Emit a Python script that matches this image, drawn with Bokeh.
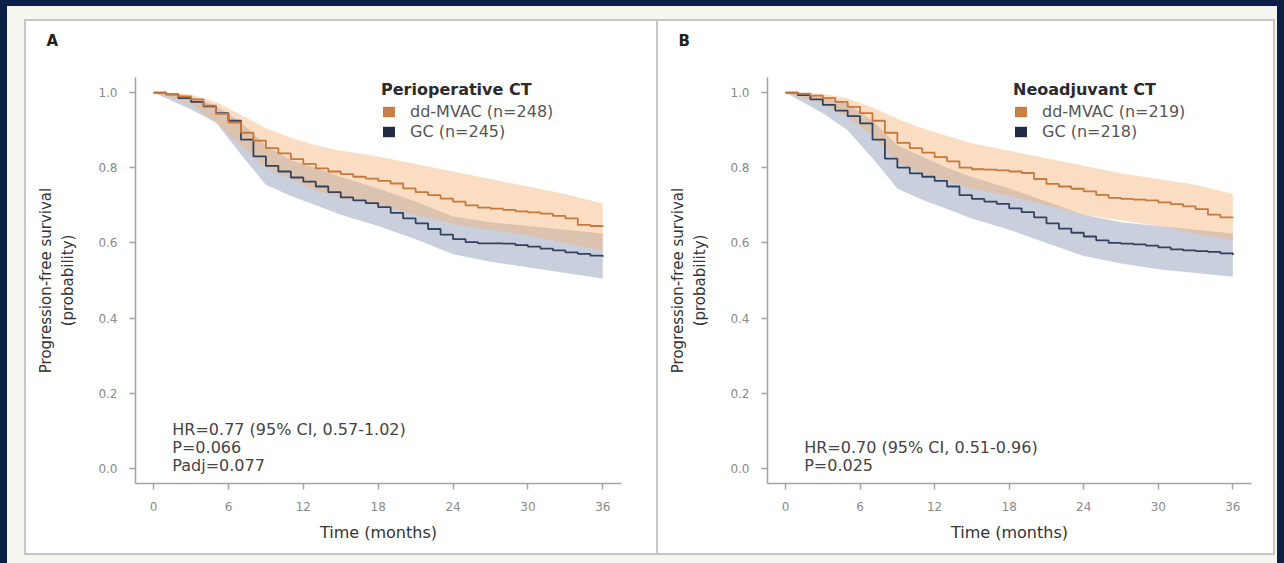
from bokeh.plotting import figure
from bokeh.layouts import row, column
from bokeh.models import (Range1d, LinearAxis, FixedTicker, Legend, LegendItem,
                          Label, Spacer, Title)
from bokeh.embed import file_html
from bokeh.resources import INLINE

# ---------------- data ----------------
months = list(range(37))

a_mvac = [1.0, 0.995, 0.99, 0.982, 0.965, 0.943, 0.92, 0.893, 0.872, 0.852, 0.838,
          0.823, 0.81, 0.798, 0.79, 0.783, 0.776, 0.771, 0.765, 0.758, 0.745, 0.735,
          0.727, 0.718, 0.71, 0.70, 0.694, 0.691, 0.688, 0.684, 0.681, 0.678, 0.672,
          0.665, 0.648, 0.645, 0.643]
a_gc = [1.0, 0.995, 0.985, 0.975, 0.963, 0.945, 0.925, 0.875, 0.83, 0.805, 0.79,
        0.774, 0.763, 0.75, 0.735, 0.721, 0.713, 0.706, 0.695, 0.68, 0.665, 0.652,
        0.637, 0.622, 0.61, 0.602, 0.599, 0.599, 0.598, 0.594, 0.59, 0.585, 0.58,
        0.575, 0.571, 0.566, 0.563]
b_mvac = [1.0, 0.997, 0.992, 0.985, 0.975, 0.962, 0.945, 0.925, 0.893, 0.866, 0.852,
          0.84, 0.828, 0.817, 0.80, 0.796, 0.795, 0.793, 0.79, 0.786, 0.77, 0.757,
          0.75, 0.744, 0.737, 0.728, 0.72, 0.717, 0.715, 0.713, 0.708, 0.703, 0.697,
          0.69, 0.675, 0.668, 0.667]
b_gc = [1.0, 0.993, 0.982, 0.967, 0.952, 0.937, 0.918, 0.875, 0.824, 0.80, 0.785,
        0.776, 0.765, 0.75, 0.727, 0.717, 0.71, 0.704, 0.692, 0.682, 0.668, 0.652,
        0.638, 0.627, 0.617, 0.607, 0.60, 0.598, 0.596, 0.593, 0.588, 0.583, 0.58,
        0.578, 0.576, 0.572, 0.568]

band_months = [0, 3, 5, 7, 9, 11, 13, 15, 18, 21, 24, 27, 30, 33, 36]
a_mvac_hi = [1.0, 0.995, 0.975, 0.94, 0.905, 0.88, 0.86, 0.845, 0.83, 0.81, 0.79, 0.77, 0.75, 0.73, 0.705]
a_mvac_lo = [1.0, 0.97, 0.92, 0.86, 0.80, 0.77, 0.74, 0.72, 0.70, 0.675, 0.65, 0.635, 0.62, 0.60, 0.58]
a_gc_hi = [1.0, 0.99, 0.965, 0.92, 0.86, 0.82, 0.80, 0.775, 0.745, 0.71, 0.67, 0.655, 0.645, 0.635, 0.625]
a_gc_lo = [1.0, 0.955, 0.92, 0.835, 0.755, 0.725, 0.70, 0.675, 0.645, 0.61, 0.57, 0.55, 0.535, 0.52, 0.505]
b_mvac_hi = [1.0, 0.997, 0.985, 0.96, 0.93, 0.905, 0.885, 0.865, 0.845, 0.825, 0.805, 0.785, 0.77, 0.755, 0.73]
b_mvac_lo = [1.0, 0.97, 0.935, 0.885, 0.815, 0.785, 0.765, 0.745, 0.725, 0.70, 0.675, 0.66, 0.645, 0.625, 0.607]
b_gc_hi = [1.0, 0.99, 0.97, 0.925, 0.86, 0.83, 0.80, 0.775, 0.745, 0.71, 0.675, 0.655, 0.645, 0.635, 0.625]
b_gc_lo = [1.0, 0.945, 0.90, 0.825, 0.745, 0.715, 0.69, 0.665, 0.635, 0.60, 0.565, 0.545, 0.53, 0.52, 0.51]

x_ticks = [0, 6, 12, 18, 24, 30, 36]
x_tick_labels = ["0", "6", "12", "18", "24", "30", "36"]
y_ticks = [0.0, 0.2, 0.4, 0.6, 0.8, 1.0]
y_tick_labels = ["0.0", "0.2", "0.4", "0.6", "0.8", "1.0"]

panel_letters = ["A", "B"]
legend_titles = ["Perioperative CT", "Neoadjuvant CT"]
mvac_labels = ["dd-MVAC (n=248)", "dd-MVAC (n=219)"]
gc_labels = ["GC (n=245)", "GC (n=218)"]
stats_a = ["HR=0.77 (95% CI, 0.57-1.02)", "P=0.066", "Padj=0.077"]
stats_b = ["HR=0.70 (95% CI, 0.51-0.96)", "P=0.025"]
x_title = "Time (months)"
y_title_outer = "Progression-free survival"
y_title_inner = "(probability)"

# ---------------- style ----------------
FONT = "DejaVu Sans"
NAVY_PAGE = "#0c1f47"
CREAM = "#f6f6f0"
GREY = "#c6c6c4"
AXIS = "#a4a4a4"
MVAC_LINE = "#c7783d"
MVAC_FILL = "#f4b47a"
GC_LINE = "#33435f"
GC_FILL = "#7080a3"
MVAC_SWATCH = "#c98048"
GC_SWATCH = "#1f2b42"

X_START, X_END = -1.45, 37.5
Y_START, Y_END = -0.04, 1.04


def make_panel(fig_width, border_right, letter, legend_title, mvac_label, gc_label,
               mvac, gc, mvac_lo, mvac_hi, gc_lo, gc_hi, stats):
    p = figure(width=fig_width, height=532,
               x_range=Range1d(X_START, X_END), y_range=Range1d(Y_START, Y_END),
               output_backend="svg", toolbar_location=None,
               min_border_left=109, min_border_right=border_right,
               min_border_top=56, min_border_bottom=70,
               background_fill_color="white", border_fill_color="white")
    p.outline_line_color = None
    p.xgrid.visible = False
    p.ygrid.visible = False

    # panel letter: the default title (outer); an empty title next to the frame spaces it up
    p.title.text = letter
    p.title.align = "left"
    p.title.offset = -89
    p.title.standoff = 0
    p.title.text_font = FONT
    p.title.text_font_size = "15px"
    p.title.text_font_style = "bold"
    p.title.text_color = "#222222"
    p.add_layout(Title(text=" ", text_font_size="1px", standoff=25), "above")

    # confidence bands
    p.varea(x=band_months, y1=gc_lo, y2=gc_hi, fill_color=GC_FILL, fill_alpha=0.38)
    p.varea(x=band_months, y1=mvac_lo, y2=mvac_hi, fill_color=MVAC_FILL, fill_alpha=0.45)
    # KM curves
    p.step(months, gc, mode="after", line_color=GC_LINE, line_width=1.8)
    p.step(months, mvac, mode="after", line_color=MVAC_LINE, line_width=1.8)

    # legend swatches: zero-area quads (nothing drawn in the frame)
    r_m = p.quad(left=months, right=months, top=mvac, bottom=mvac,
                 fill_color=MVAC_SWATCH, line_color=None)
    r_g = p.quad(left=months, right=months, top=gc, bottom=gc,
                 fill_color=GC_SWATCH, line_color=None)
    legend = Legend(items=[LegendItem(label=mvac_label, renderers=[r_m]),
                           LegendItem(label=gc_label, renderers=[r_g])],
                    location=(246, 342))
    legend.title = legend_title
    legend.title_text_font = FONT
    legend.title_text_font_style = "bold"
    legend.title_text_font_size = "16px"
    legend.title_text_color = "#2b2b2b"
    legend.title_standoff = 2
    legend.label_text_font = FONT
    legend.label_text_font_size = "16px"
    legend.label_text_color = "#555555"
    legend.label_height = 20
    legend.glyph_height = 13
    legend.glyph_width = 15
    legend.label_standoff = 14
    legend.padding = 3
    legend.spacing = 0
    legend.border_line_color = None
    legend.background_fill_alpha = 0
    p.add_layout(legend)

    # axes
    xa = p.xaxis[0]
    xa.ticker = FixedTicker(ticks=x_ticks)
    xa.major_label_overrides = dict(zip(x_ticks, x_tick_labels))
    ya = p.yaxis[0]
    ya.ticker = FixedTicker(ticks=y_ticks)
    ya.major_label_overrides = dict(zip(y_ticks, y_tick_labels))
    for ax in (xa, ya):
        ax.axis_line_color = AXIS
        ax.axis_line_width = 1.5
        ax.major_tick_line_color = AXIS
        ax.major_tick_line_width = 1.5
        ax.major_tick_out = 6
        ax.major_tick_in = 0
        ax.minor_tick_line_color = None
        ax.major_label_text_font = FONT
        ax.major_label_text_font_size = "12px"
        ax.major_label_text_color = "#8a8a8a"
        ax.axis_label_text_font = FONT
        ax.axis_label_text_font_style = "normal"
        ax.axis_label_text_color = "#333333"
    xa.major_label_standoff = 12
    xa.axis_label = x_title
    xa.axis_label_text_font_size = "16px"
    xa.axis_label_standoff = 9
    ya.major_label_standoff = 12
    ya.axis_label = y_title_inner
    ya.axis_label_text_font_size = "15px"
    ya.axis_label_standoff = 18

    outer = LinearAxis(ticker=FixedTicker(ticks=[]), axis_label=y_title_outer,
                       axis_line_color=None, major_tick_line_color=None,
                       minor_tick_line_color=None, major_tick_out=0, major_tick_in=0,
                       major_label_standoff=0, axis_label_standoff=2,
                       axis_label_text_font=FONT, axis_label_text_font_style="normal",
                       axis_label_text_font_size="15px", axis_label_text_color="#333333")
    p.add_layout(outer, "left")

    # statistics text (bottom line first)
    for k, line in enumerate(reversed(stats)):
        p.add_layout(Label(x=1.5, y=0.0, y_offset=3 + 18 * k, text=line,
                           text_font=FONT, text_font_size="16px", text_color="#444444",
                           text_baseline="middle", text_align="left"))
    return p


pA = make_panel(630, 35, panel_letters[0], legend_titles[0], mvac_labels[0], gc_labels[0],
                a_mvac, a_gc, a_mvac_lo, a_mvac_hi, a_gc_lo, a_gc_hi, stats_a)
pB = make_panel(615, 22, panel_letters[1], legend_titles[1], mvac_labels[1], gc_labels[1],
                b_mvac, b_gc, b_mvac_lo, b_mvac_hi, b_gc_lo, b_gc_hi, stats_b)


def block(w, h, color):
    return Spacer(width=w, height=h, styles={"background-color": color})


content = column(
    block(1270, 13, CREAM),
    row(block(17, 2, CREAM), block(1251, 2, GREY), block(2, 2, CREAM)),
    row(block(17, 532, CREAM), block(2, 532, GREY), pA, block(2, 532, GREY), pB,
        block(2, 532, GREY), block(2, 532, CREAM)),
    row(block(17, 2, CREAM), block(1251, 2, GREY), block(2, 2, CREAM)),
    block(1270, 8, CREAM),
)
layout = column(block(1284, 6, NAVY_PAGE),
                row(block(7, 557, NAVY_PAGE), content, block(7, 557, NAVY_PAGE)))

open("out.html", "w").write(file_html(layout, INLINE, title="Progression-free survival"))
